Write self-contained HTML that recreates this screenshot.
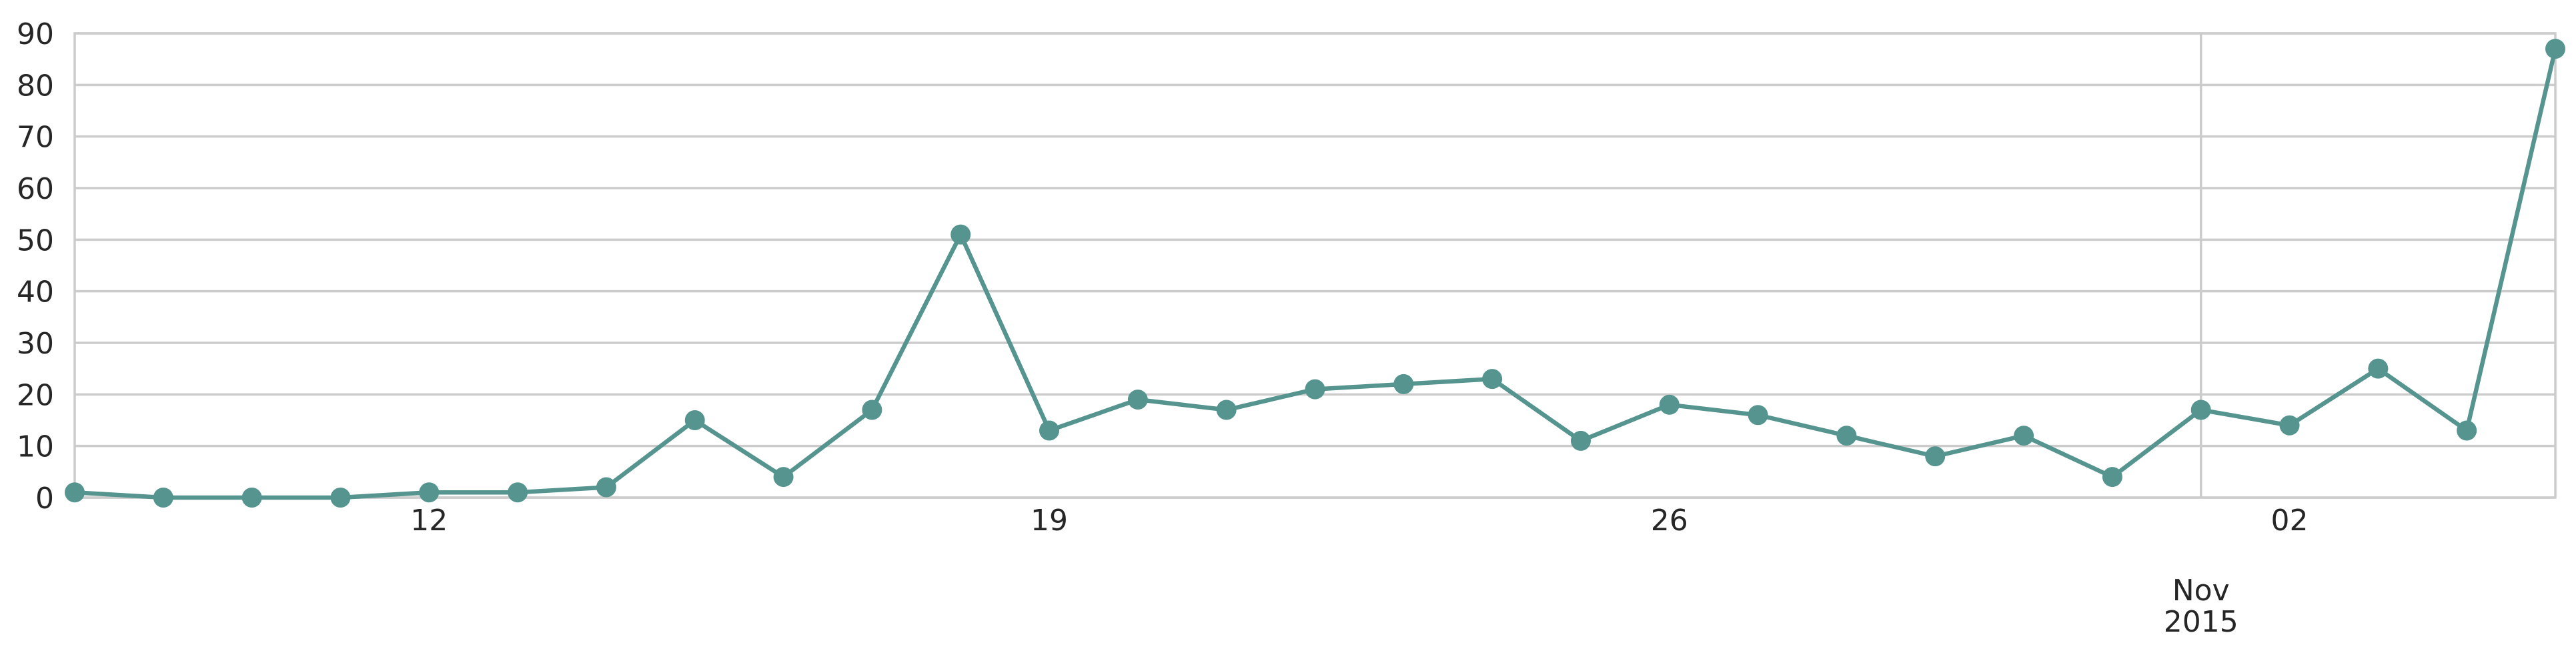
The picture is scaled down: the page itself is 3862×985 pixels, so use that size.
<!DOCTYPE html>
<html><head><meta charset="utf-8"><style>
html,body{margin:0;padding:0;background:#fff;}
svg{display:block;}
text{font-family:"DejaVu Sans","Liberation Sans",sans-serif;fill:#262626;font-size:44px;}
</style></head><body>
<svg id="chart" width="3862" height="985" viewBox="0 0 3862 985" xmlns="http://www.w3.org/2000/svg">
<g id="grid"></g>
<g id="yaxis"></g>
<g id="xaxis"></g>
<g id="series"></g>
</svg>
<script>
const dayLabels = ["Oct 8","Oct 9","Oct 10","Oct 11","Oct 12","Oct 13","Oct 14","Oct 15","Oct 16","Oct 17","Oct 18","Oct 19","Oct 20","Oct 21","Oct 22","Oct 23","Oct 24","Oct 25","Oct 26","Oct 27","Oct 28","Oct 29","Oct 30","Oct 31","Nov 1","Nov 2","Nov 3","Nov 4","Nov 5"];
const values = [1,0,0,0,1,1,2,15,4,17,51,13,19,17,21,22,23,11,18,16,12,8,12,4,17,14,25,13,87];
const yTicks = [0,10,20,30,40,50,60,70,80,90];
const xTickIndex = [4,11,18,25];
const xTickLabels = ["12","19","26","02"];
const monthTickIndex = 24;
const monthLabel = ["Nov","2015"];

const NS="http://www.w3.org/2000/svg";
const L=112,R=3831,T=50,B=746;
const x=i=>L+(R-L)*i/(values.length-1);
const y=v=>B-(B-T)*v/90;
function mk(tag,attrs,parent){const e=document.createElementNS(NS,tag);for(const k in attrs)e.setAttribute(k,attrs[k]);parent.appendChild(e);return e;}
const grid=document.getElementById('grid'),ya=document.getElementById('yaxis'),xa=document.getElementById('xaxis'),se=document.getElementById('series');

yTicks.forEach(t=>{
  const g=mk('line',{x1:L,x2:R,y1:y(t),y2:y(t),stroke:'#cccccc','stroke-width':3.5},grid);
  
  
  const tx=mk('text',{x:81,y:y(t)+16,'text-anchor':'end'},ya);
  tx.textContent=t;
  
  
});
const vg=mk('line',{x1:x(monthTickIndex),x2:x(monthTickIndex),y1:T,y2:B,stroke:'#cccccc','stroke-width':3.5},grid);


const frame=mk('rect',{x:L,y:T,width:R-L,height:B-T,fill:'none',stroke:'#cccccc','stroke-width':3.5},grid);



xTickIndex.forEach((idx,k)=>{
  const tx=mk('text',{x:x(idx),y:795,'text-anchor':'middle'},xa);
  tx.textContent=xTickLabels[k];
  
  
});
monthLabel.forEach((s,k)=>{
  const tx=mk('text',{x:x(monthTickIndex),y:900+47*k,'text-anchor':'middle'},xa);
  tx.textContent=s;
  
  
});

const line=mk('polyline',{points:values.map((v,i)=>x(i)+','+y(v)).join(' '),fill:'none',stroke:'#55948f','stroke-width':6.5,'stroke-linejoin':'round'},se);


values.forEach((v,i)=>{
  const c=mk('circle',{cx:x(i),cy:y(v),r:15,fill:'#55948f'},se);
  
  
});
</script>
</body></html>
